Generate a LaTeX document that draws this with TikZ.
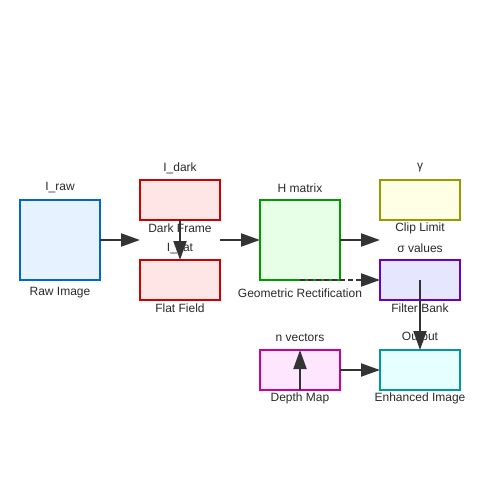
\documentclass[tikz,border=0pt]{standalone}
\usepackage{fontspec}
\setmainfont{Liberation Sans}
\usetikzlibrary{arrows.meta}

\definecolor{rawline}{HTML}{0066CC}\definecolor{rawfill}{HTML}{E6F2FF}
\definecolor{calline}{HTML}{CC0000}\definecolor{calfill}{HTML}{FFE6E6}
\definecolor{geoline}{HTML}{009900}\definecolor{geofill}{HTML}{E6FFE6}
\definecolor{clipline}{HTML}{999900}\definecolor{clipfill}{HTML}{FFFFE6}
\definecolor{filtline}{HTML}{6600CC}\definecolor{filtfill}{HTML}{E6E6FF}
\definecolor{depthline}{HTML}{CC0099}\definecolor{depthfill}{HTML}{FFE6FF}
\definecolor{enhline}{HTML}{009999}\definecolor{enhfill}{HTML}{E6FFFF}
\definecolor{arrowgray}{HTML}{333333}

\begin{document}
\begin{tikzpicture}[x=1pt,y=-1pt,
    every node/.style={font=\fontsize{12}{14}\selectfont, text=arrowgray!80!black},
    stage/.style={draw, line width=2pt, minimum width=80pt, inner sep=0pt, outer sep=0pt},
    bigstage/.style={stage, minimum height=80pt},
    smallstage/.style={stage, minimum height=40pt},
    flow/.style={draw=arrowgray, line width=2pt, -{Triangle[length=19pt,width=13pt]}}]
\useasboundingbox (0,0) rectangle (500,500);

% boxes
\node[bigstage, draw=rawline, fill=rawfill] (raw) at (60,240) {};
\node[smallstage, draw=calline, fill=calfill] (dark) at (180,200) {};
\node[smallstage, draw=calline, fill=calfill] (flat) at (180,280) {};
\node[bigstage, draw=geoline, fill=geofill] (geo) at (300,240) {};
\node[smallstage, draw=clipline, fill=clipfill] (clip) at (420,200) {};
\node[smallstage, draw=filtline, fill=filtfill] (filt) at (420,280) {};
\node[smallstage, draw=depthline, fill=depthfill] (depth) at (300,370) {};
\node[smallstage, draw=enhline, fill=enhfill] (enh) at (420,370) {};

% texts above and below
\node (rawsym) at (60,188) {I\_raw};
\node (rawname) at (60,293) {Raw Image};
\node (darksym) at (180,168) {I\_dark};
\node (darkname) at (180,228) {Dark Frame};
\node (flatsym) at (180,248) {I\_flat};
\node (flatname) at (180,308) {Flat Field};
\node (geosym) at (300,188) {H matrix};
\node (geoname) at (300,293) {Geometric Rectification};
\node (clipsym) at (420,168) {γ};
\node (clipname) at (420,228) {Clip Limit};
\node (filtsym) at (420,248) {σ values};
\node (filtname) at (420,308) {Filter Bank};
\node (depthsym) at (300,338) {n vectors};
\node (depthname) at (300,398) {Depth Map};
\node (enhsym) at (420,338) {Output};
\node (enhname) at (420,398) {Enhanced Image};

% free ends between the small boxes
\coordinate (calin) at (140,240);
\coordinate (calout) at (220,240);
\coordinate (postin) at (380,240);

% arrows
\draw[flow] (raw.east) -- (calin);
\draw[flow] (dark.south) -- (flat.north);
\draw[flow] (calout) -- (geo.west);
\draw[flow] (geo.east) -- (postin);
\draw[flow, dash pattern=on 5pt off 3pt] (geo.south) -- (filt.west);
\draw[flow] (filt.center) -- (enh.north);
\draw[flow] (depth.east) -- (enh.west);
\draw[flow] (depth.south) -- (depth.north);
\end{tikzpicture}
\end{document}
